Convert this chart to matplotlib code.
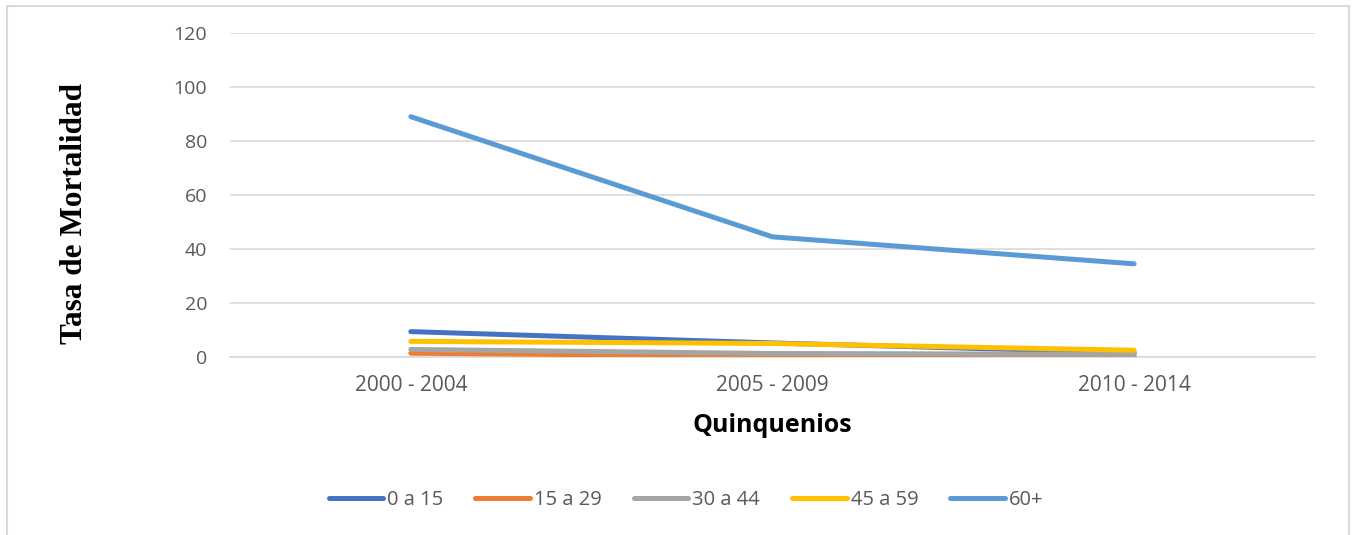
import matplotlib

matplotlib.use("Agg")
import matplotlib.pyplot as plt
from matplotlib.patches import Rectangle

# Datos
quinquenios = ["2000 - 2004", "2005 - 2009", "2010 - 2014"]
grupos = ["0 a 15", "15 a 29", "30 a 44", "45 a 59", "60+"]
tasa_0_15 = [9.4, 5.2, 1.6]
tasa_15_29 = [1.4, 0.3, 0.4]
tasa_30_44 = [2.8, 1.3, 1.0]
tasa_45_59 = [5.8, 5.0, 2.5]
tasa_60 = [89.0, 44.5, 34.5]
y_ticks = [0, 20, 40, 60, 80, 100, 120]

COLORES = ["#4472C4", "#ED7D31", "#A5A5A5", "#FFC000", "#5B9BD5"]
TXT = "#595959"
GRID = "#D9D9D9"

fig = plt.figure(figsize=(13.56, 5.35), dpi=100)
fig.patch.set_facecolor("white")
# marco del área del gráfico
fig.patches.append(Rectangle((7 / 1356, -0.01), 1342 / 1356, 1.0 - 6 / 535 + 0.01,
                             transform=fig.transFigure, fill=False,
                             edgecolor=GRID, linewidth=1.5))

ax = fig.add_axes([230 / 1356, 1 - 357 / 535, 1085 / 1356, 324 / 535])
x = list(range(len(quinquenios)))
series = [tasa_0_15, tasa_15_29, tasa_30_44, tasa_45_59, tasa_60]
for nombre, vals, col in zip(grupos, series, COLORES):
    ax.plot(x, vals, color=col, linewidth=3.6, solid_capstyle="round",
            label=nombre, zorder=3)

ax.set_xlim(-0.5, 2.5)
ax.set_ylim(0, 120)
ax.set_yticks(y_ticks)
ax.set_xticks(x)
ax.set_xticklabels(quinquenios)
ax.yaxis.grid(True, color=GRID, linewidth=1.2)
ax.set_axisbelow(True)
for s in ["top", "right", "left"]:
    ax.spines[s].set_visible(False)
ax.spines["bottom"].set_color(GRID)
ax.spines["bottom"].set_linewidth(1.2)
ax.tick_params(axis="both", length=0, labelcolor=TXT,
               labelfontfamily="Open Sans")
ax.tick_params(axis="y", pad=16.5, labelsize=14)
ax.tick_params(axis="x", pad=13, labelsize=15)

ax.set_xlabel("Quinquenios", fontsize=18, fontweight="bold",
              family="Open Sans", color="black", labelpad=12)
fig.text(75 / 1356, 1 - 214 / 535, "Tasa de Mortalidad", rotation=90,
         ha="center", va="center", fontsize=22.5, fontweight="bold",
         family="Liberation Serif")

leg = fig.legend(loc="center", bbox_to_anchor=(686 / 1356, 1 - 500 / 535),
                 ncol=5, frameon=False, handlelength=2.7,
                 handletextpad=0.2, columnspacing=1.6,
                 prop={"family": "Open Sans", "size": 14.5})
for t in leg.get_texts():
    t.set_color(TXT)

plt.savefig("out.png", dpi=100, facecolor="white")
